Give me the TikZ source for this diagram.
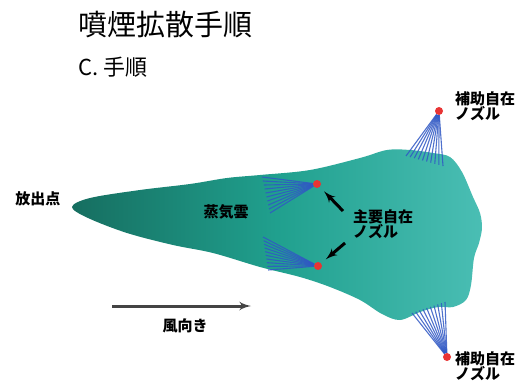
\documentclass[tikz,border=0pt]{standalone}
\usepackage{fontspec}
\setmainfont{Noto Sans CJK JP}
\definecolor{PlumeDark}{RGB}{22,110,96}
\definecolor{PlumeMid}{RGB}{32,160,142}
\definecolor{PlumeLight}{RGB}{74,190,180}
\definecolor{SprayBlue}{RGB}{48,88,196}
\definecolor{NozzleRed}{RGB}{232,52,52}
\definecolor{WindGray}{RGB}{68,68,68}
\usetikzlibrary{arrows, calc, positioning}

\begin{document}
\begin{tikzpicture}[x=1pt, y=-1pt, node distance=12pt, auto]
        \tikzstyle{tag} = [font=\bfseries\fontsize{15}{14}\selectfont, inner sep=0pt, align=left]
        \tikzstyle{nozzle} = [circle, fill=NozzleRed, inner sep=0pt, minimum size=8pt]
        \tikzstyle{spray} = [draw=SprayBlue, line width=1.1pt, opacity=0.85]
        \tikzstyle{pointer} = [draw, -latex', line width=3pt]

        \useasboundingbox (0,0) rectangle (522,385);

        % titles
        \node [anchor=west, inner sep=0pt, font=\fontsize{29}{31}\selectfont] (title) at (78,25) {噴煙拡散手順};
        \node [anchor=west, inner sep=0pt, font=\fontsize{22}{24}\selectfont] (step) at (78,67) {C. 手順};

        % steam cloud
        \shade [left color=PlumeDark, right color=PlumeLight, middle color=PlumeMid]
            plot [smooth cycle, tension=0.55] coordinates {
            (72,207) (90,198) (140,190) (190,184) (227,178) (260,175) (310,170)
            (360,158) (387,150) (410,150) (433,153) (450,157) (462,172) (473,197)
            (480,213) (482,228) (479,243) (474,258) (471,285) (466,300) (453,307)
            (438,307) (420,312) (400,320) (382,314) (360,300) (330,287) (300,277)
            (260,267) (213,253) (173,245) (127,233) (88,218)};

        % nozzles
        \node [nozzle] (mainA) at (317,184) {};
        \node [nozzle] (mainB) at (318,266) {};
        \node [nozzle] (auxT) at (439,111) {};
        \node [nozzle] (auxB) at (447,357) {};

        % spray fans
        \foreach \i in {0,...,9} {
            \draw [spray] (mainA) -- ($(262,177)!\i/9!(270,213)$);
            \draw [spray] (mainB) -- ($(263,237)!\i/9!(268,270)$);
            \draw [spray] (auxT) -- ($(406,156)!\i/9!(443,166)$);
            \draw [spray] (auxB) -- ($(412,313)!\i/9!(445,302)$);
        }

        % labels
        \node [tag] (source) at (38,199) {放出点};
        \node [tag] (cloud) at (226,212) {蒸気雲};
        \node [tag, anchor=north west] (mainlbl) at (353,209) {主要自在\\ノズル};
        \node [tag, anchor=north west] (auxlblT) at (455,91) {補助自在\\ノズル};
        \node [tag, anchor=north west] (auxlblB) at (455,351) {補助自在\\ノズル};
        \node [tag] (wind) at (185,326) {風向き};

        % pointers to the main nozzles
        \coordinate (tailA) at (343,211);
        \coordinate (tailB) at (345,243);
        \draw [pointer, shorten >=6pt] (tailA) -- (mainA);
        \draw [pointer, shorten >=6pt] (tailB) -- (mainB);

        % wind direction
        \coordinate (windS) at (112,306);
        \coordinate (windE) at (251,306);
        \draw [pointer, draw=WindGray] (windS) -- (windE);
    \end{tikzpicture}
\end{document}
